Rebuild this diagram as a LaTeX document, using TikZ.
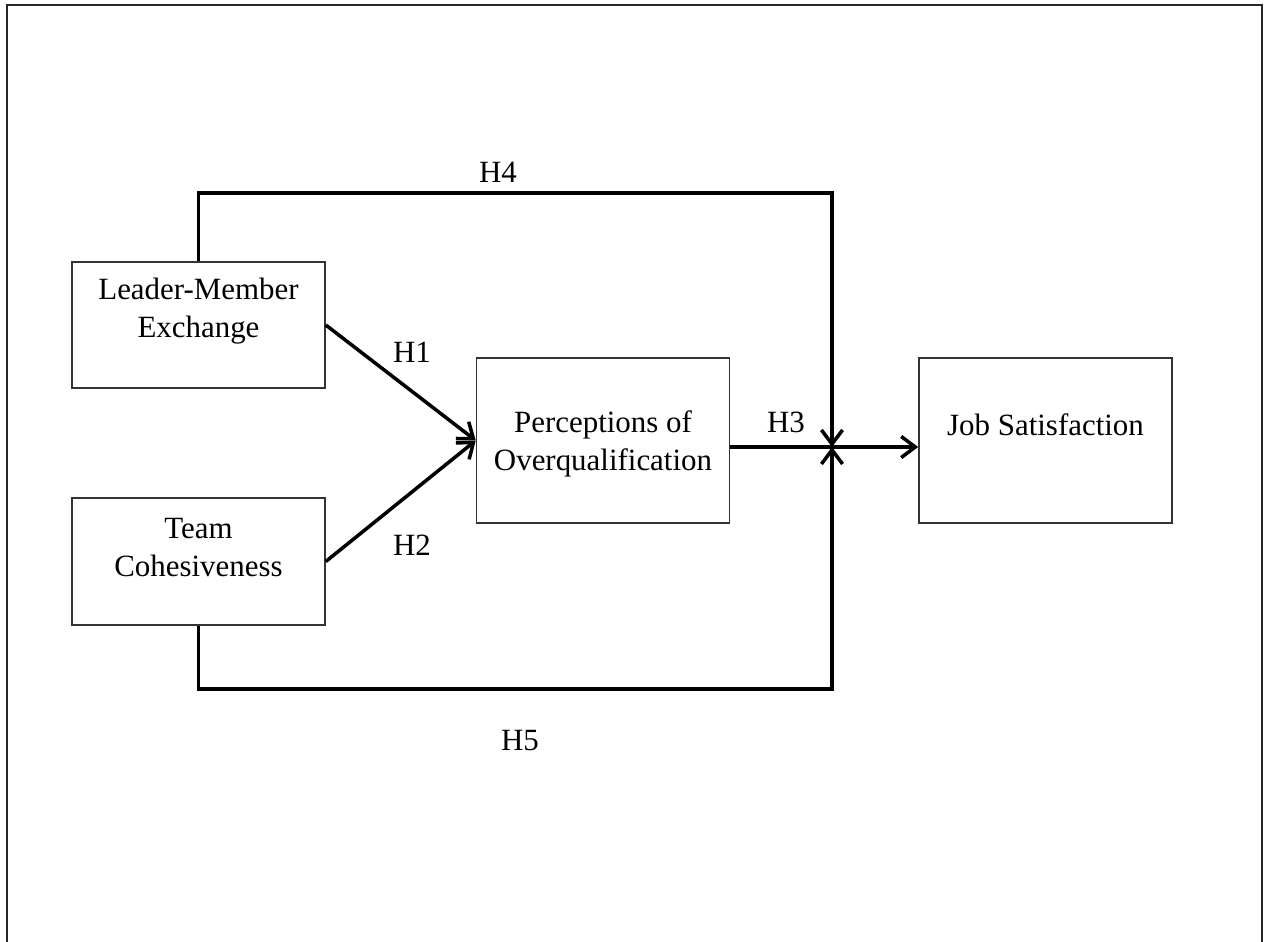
\documentclass[tikz,border=0pt]{standalone}
\usepackage{fontspec}
\setmainfont{Liberation Serif}
\usepackage{tikz}
\usetikzlibrary{arrows.meta}

\tikzset{
  box/.style={draw=black!80, line width=0.9pt, minimum width=5.06cm, inner sep=0pt},
  txt/.style={align=center, font=\fontsize{17.6}{22}\selectfont, inner sep=0pt},
  conn/.style={line width=2pt, -{Straight Barb[length=8pt,width=12pt,line width=2pt]}}
}

\begin{document}
\begin{tikzpicture}[x=0.02cm, y=-0.02cm]
        \useasboundingbox (0,0) rectangle (1264,942);
        \draw[black!85, line width=1.3pt] (7,942) -- (7,5) -- (1262,5) -- (1262,942);

        % boxes
        \node[box, minimum height=2.52cm] (lmx) at (198.5,325) {};
        \node[box, minimum height=2.54cm] (tc) at (198.5,561.5) {};
        \node[box, minimum height=3.3cm] (poq) at (603,440.5) {};
        \node[box, minimum height=3.3cm] (js) at (1045.5,440.5) {};

        \node[txt] (lmx-t) at ([yshift=8pt]lmx.center) {Leader-Member\\Exchange};
        \node[txt] (tc-t) at ([yshift=8pt]tc.center) {Team\\Cohesiveness};
        \node[txt] (poq-t) at ([yshift=-2pt]poq.center) {Perceptions of\\Overqualification};
        \node[txt] (js-t) at ([yshift=9pt]js.center) {Job Satisfaction};

        % junction of H3, H4, H5
        \coordinate (jn) at (832,447);
        \coordinate (h4c) at (832,193);
        \coordinate (h5c) at (832,689);

        \draw[conn] (lmx.east) -- (poq.west);
        \draw[conn] (tc.east) -- (poq.west);
        \draw[conn] (poq.east |- jn) -- (js.west |- jn);
        \draw[conn] (lmx.north) |- (h4c) -- (jn);
        \draw[conn] (tc.south) |- (h5c) -- (jn);

        \node[txt] (h1) at (412,352) {H1};
        \node[txt] (h2) at (412,545) {H2};
        \node[txt] (h3) at (786,422) {H3};
        \node[txt] (h4) at (498,172) {H4};
        \node[txt] (h5) at (520,741) {H5};
    \end{tikzpicture}
\end{document}
